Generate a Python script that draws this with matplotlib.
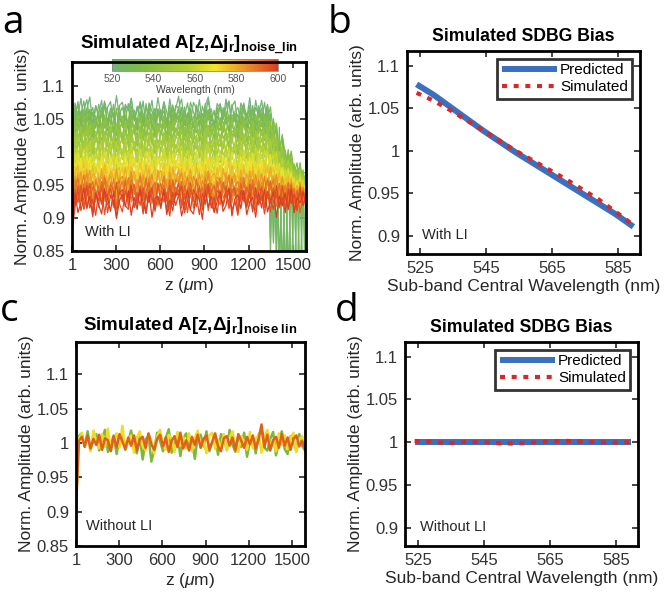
import numpy as np
import matplotlib.pyplot as plt
from matplotlib.colors import LinearSegmentedColormap, Normalize
from matplotlib.cm import ScalarMappable

plt.rcParams['font.family'] = ['Liberation Sans', 'DejaVu Sans']
plt.rcParams['mathtext.fontset'] = 'custom'
plt.rcParams['mathtext.rm'] = 'Liberation Sans'
plt.rcParams['mathtext.it'] = 'Liberation Sans:italic'
plt.rcParams['mathtext.bf'] = 'Liberation Sans:bold'

# ---- panel a: traces per wavelength (with LI) ----
wl_a = [520, 522.5, 525, 527.5, 530, 532.5, 535, 537.5, 540, 542.5, 545,
        547.5, 550, 552.5, 555, 557.5, 560, 562.5, 565, 567.5, 570,
        572.5, 575, 577.5, 580, 582.5, 585, 587.5, 590, 592.5, 595, 597.5, 600]
level_a = [1.060, 1.057, 1.053, 1.049, 1.045, 1.041, 1.036, 1.031, 1.026, 1.021, 1.016,
           1.011, 1.006, 1.001, 0.996, 0.991, 0.986, 0.981, 0.977, 0.973, 0.969,
           0.965, 0.961, 0.957, 0.953, 0.949, 0.945, 0.941, 0.937, 0.933, 0.929, 0.925, 0.921]
# deviations (x1e-3), 80 samples along z
dev_a = [
    [-55, 14, -6, 21, -16, 4, 23, -19, 10, -3,
     18, -24, 7, 16, -11, 25, -7, -20, 12, 2,
     21, -13, 9, -10, 17, -22, 14, 1, -12, 22,
     -5, 11, -18, 20, -9, 5, 24, -14, 8, -21,
     15, 0, -12, 19, -17, 10, 23, -8, -19, 13,
     6, -11, 20, -15, 9, 17, -21, 4, 12, -10,
     22, -16, 7, -4, 18, -13, 11, -20, 15, 3,
     -9, 21, -14, 8, 16, -18, 5, 13, -7, 10],
    [-50, -8, 19, -14, 6, 22, -10, 3, -21, 15,
     -4, 20, -17, 9, 1, -23, 13, 18, -6, -12,
     24, -9, 5, 16, -19, 11, -2, 21, -15, 7,
     -11, 19, 3, -22, 14, -6, 10, 23, -17, 2,
     -13, 18, 8, -20, 12, -3, 22, -10, 6, -18,
     16, -7, 11, 20, -14, 1, -21, 17, 4, -9,
     13, -16, 21, -5, 9, -19, 15, 2, -12, 24,
     -8, 6, -17, 19, -3, 11, -14, 22, -6, 8],
    [-45, 17, -13, 2, 24, -7, 11, -19, 16, -1,
     -15, 21, 8, -11, 19, -22, 5, 14, -4, 20,
     -17, 10, -8, 23, 3, -14, 18, -20, 9, 12,
     -3, 22, -16, 6, -10, 17, 13, -18, 1, 21,
     -9, -15, 15, 7, -23, 20, -5, 12, -13, 4,
     19, -11, -2, 23, -18, 8, 14, -7, 21, -16,
     3, 10, -20, 17, -6, 22, -12, 5, 18, -21,
     11, -4, 15, -10, 20, -15, 7, -1, 16, -8],
    [-60, 9, 22, -12, 15, -20, 4, 18, -7, 11,
     -16, 23, -3, 7, -21, 14, 19, -10, 2, -14,
     20, 6, -18, 12, -5, 24, -11, 8, 17, -19,
     1, 13, -8, 21, -15, 10, -2, 18, -23, 5,
     16, -12, 22, -6, 9, -17, 14, 3, -20, 19,
     -9, 12, 4, -16, 23, -4, 8, -13, 17, 0,
     -19, 21, -7, 14, -11, 6, 20, -15, 10, -2,
     18, -12, 3, 22, -9, 15, -18, 7, 12, -5],
    [-40, -12, 16, 5, -19, 21, -6, 13, 9, -17,
     22, -2, -13, 18, 7, -21, 11, -8, 24, -15,
     4, 17, -10, 14, -23, 8, 20, -4, -16, 12,
     19, -9, 6, -20, 23, -1, 10, -14, 16, -7,
     21, -18, 3, 13, -11, 18, -22, 9, 15, -5,
     -13, 22, 2, -17, 11, 7, -19, 20, -8, 14,
     -3, 17, -21, 9, 12, -14, 4, 23, -10, 6,
     -16, 19, 1, -12, 21, -6, 14, -20, 8, 11],
]
# band collapse beyond z~1350 um (last 13 samples) and green drop-outs
tail_squeeze = [1.0, 0.93, 0.85, 0.76, 0.67, 0.59, 0.52, 0.46, 0.41, 0.37, 0.33, 0.30, 0.27]
tail_center = 0.925
tail_dip_1 = [0, -200, 0, -210, -10, -205, 0, -210, -5, -200, 0, -210, -10]
tail_dip_2 = [-190, 0, -200, 0, -205, 0, -200, -10, -210, 0, -200, -5, -210]

# ---- panel c: traces (without LI) ----
c_green = [-30, 10, 14, -6, 17, -9, 4, 13, -11, 7,
           19, -13, -3, 11, -16, 6, 12, -10, 2, 18,
           -7, -15, 9, -24, 5, 11, -27, -9, 15, 3,
           -12, 8, 20, -14, -1, 12, -19, 7, 14, -8,
           3, -23, 10, 12, -5, 17, -12, 1, 9, -17,
           13, 6, -10, 19, -3, -13, 11, -6, 15, -20,
           4, 9, -15, 12, 20, -7, -11, 6, 16, -18,
           2, 17, -9, -16, 10, 5, -12, 13, -4, -11]
c_yellow = [-90, 6, 15, -4, 9, -12, 18, 2, -8, 13,
            -6, 21, -10, 5, 14, -7, 25, -9, 3, 11,
            -14, 8, 17, -5, -11, 13, 4, -16, 10, 19,
            -3, -10, 12, 6, -13, 16, -4, 9, -8, 14,
            -12, 7, 18, -6, 3, -15, 11, 15, -9, 5,
            -7, 13, -11, 8, 17, -5, -13, 10, 2, -10,
            16, -8, 6, 12, -14, 9, 19, -6, 4, -12,
            14, -3, 11, -9, 7, 15, -13, 5, 10, -7]
c_orange = [-95, 3, 9, -5, 11, -8, 6, -3, 12, -10,
            7, 4, -12, 10, -6, 13, 2, -9, 8, -4,
            11, -11, 5, 9, -7, 14, -2, -10, 6, 12,
            -5, 8, -13, 3, 10, -6, 15, -8, 4, -11,
            9, -3, 12, -7, 6, 11, -9, 2, 14, -5,
            -12, 7, 10, -4, 8, -10, 13, 3, -7, 9,
            -2, 11, -8, 5, 27, -6, 12, -11, 4, 9,
            -7, 13, -4, 8, -10, 6, 11, -5, 3, -8]
c_colors = ['#7ab840', '#f0dc20', '#e0601c']

# ---- panels b, d: SDBG bias ----
wl_bias = [524, 529, 534, 539, 544, 549, 554, 559, 564, 569, 574, 579, 584, 589.5]
pred_b = [1.078, 1.066, 1.052, 1.038, 1.024, 1.011, 0.998, 0.986, 0.974, 0.962, 0.950, 0.938, 0.926, 0.911]
sim_b = [1.068, 1.059, 1.048, 1.036, 1.024, 1.012, 1.000, 0.989, 0.978, 0.967, 0.955, 0.943, 0.929, 0.913]
pred_d = [1.0] * 14
sim_d = [1.0016, 1.0008, 0.9988, 1.0004, 1.0004, 0.9990, 0.9985, 0.9995, 1.0008, 1.0018, 1.0010, 1.0002, 0.9996, 1.0002]

z_ticks = [1, 300, 600, 900, 1200, 1500]
yt_ac = [0.85, 0.9, 0.95, 1, 1.05, 1.1]
yt_ac_lab = ['0.85', '0.9', '0.95', '1', '1.05', '1.1']
yt_bd = [0.9, 0.95, 1, 1.05, 1.1]
yt_bd_lab = ['0.9', '0.95', '1', '1.05', '1.1']
wl_ticks = [525, 545, 565, 585]

cmap = LinearSegmentedColormap.from_list('wl', [(0.0, '#72b47a'), (0.15, '#7cbb48'), (0.45, '#b0cf35'),
                                                (0.62, '#f2e52a'), (0.8, '#eb9428'), (1.0, '#dc3c22')])
norm = Normalize(520, 600)

fig = plt.figure(figsize=(6.68, 5.97), dpi=100)
ax_a = fig.add_axes([0.1078, 0.5796, 0.3503, 0.3166])
ax_b = fig.add_axes([0.6093, 0.5745, 0.3488, 0.3400])
ax_c = fig.add_axes([0.1138, 0.0854, 0.3428, 0.3417])
ax_d = fig.add_axes([0.6063, 0.0854, 0.3488, 0.3417])


def style(ax):
    for s in ax.spines.values():
        s.set_linewidth(2)
        s.set_zorder(6)
    ax.tick_params(direction='in', top=True, right=True, length=4, width=1.2,
                   labelsize=12, colors='#262626', labelcolor='#333333', pad=5)


# panel a
n = len(dev_a[0])
z = np.linspace(1, 1590, n)
squeeze = np.ones(n)
squeeze[n - len(tail_squeeze):] = tail_squeeze
for k, (w, lev) in enumerate(zip(wl_a, level_a)):
    y = tail_center + (lev - tail_center) * squeeze + np.array(dev_a[k % len(dev_a)]) / 1000
    if k < 4:
        dip = tail_dip_1 if k % 2 == 0 else tail_dip_2
        y[n - len(dip):] += np.array(dip) / 1000
    ax_a.plot(z, y, color=cmap(norm(w)), lw=0.9)
ax_a.set_xlim(1, 1590)
ax_a.set_ylim(0.85, 1.136)
ax_a.set_xticks(z_ticks)
ax_a.set_yticks(yt_ac, yt_ac_lab)
ax_a.set_xlabel('z ($\\mu$m)', fontsize=12.5, color='#262626', labelpad=2)
ax_a.set_ylabel('Norm. Amplitude (arb. units)', fontsize=12.5, color='#262626', labelpad=2)
ax_a.set_title('Simulated A[z,Δj$_\\mathbf{r}$]$_\\mathbf{noise\\_lin}$', fontsize=13.5, fontweight='bold', pad=9)
ax_a.text(0.055, 0.1, 'With LI', transform=ax_a.transAxes, fontsize=10.5, color='#262626', va='center')
style(ax_a)
cax = ax_a.inset_axes([0.171, 0.952, 0.709, 0.063])
cb = fig.colorbar(ScalarMappable(norm=norm, cmap=cmap), cax=cax, orientation='horizontal')
cb.set_ticks([520, 540, 560, 580, 600])
cax.tick_params(labelsize=7.5, length=0, labelcolor='#555555', pad=2)
cb.set_label('Wavelength (nm)', fontsize=7.5, color='#444444', labelpad=1)
cb.outline.set_edgecolor('#888888')
cb.outline.set_linewidth(0.6)

# panel c
for vals, col in zip([c_green, c_yellow, c_orange], c_colors):
    ax_c.plot(z, 1 + np.array(vals) / 1000, color=col, lw=1.8)
ax_c.set_xlim(1, 1590)
ax_c.set_ylim(0.85, 1.147)
ax_c.set_xticks(z_ticks)
ax_c.set_yticks(yt_ac, yt_ac_lab)
ax_c.set_xlabel('z ($\\mu$m)', fontsize=12.5, color='#262626', labelpad=2)
ax_c.set_ylabel('Norm. Amplitude (arb. units)', fontsize=12.5, color='#262626', labelpad=2)
ax_c.set_title('Simulated A[z,Δj$_\\mathbf{r}$]$_\\mathbf{noise\\ lin}$', fontsize=13.5, fontweight='bold', pad=9)
ax_c.text(0.045, 0.1, 'Without LI', transform=ax_c.transAxes, fontsize=10.5, color='#262626', va='center')
style(ax_c)

# panels b, d
for ax, pred, sim, note in [(ax_b, pred_b, sim_b, 'With LI'), (ax_d, pred_d, sim_d, 'Without LI')]:
    ax.plot(wl_bias, pred, color='#3b6fc0', lw=4.3, solid_capstyle='butt', label='Predicted')
    ax.plot(wl_bias, sim, color='#d42a2a', lw=3, linestyle=(0, (1.2, 1.6)), dash_capstyle='butt',
            label='Simulated')
    ax.set_xlim(521.1, 591.5)
    ax.set_ylim(0.879, 1.117)
    ax.set_xticks(wl_ticks)
    ax.set_yticks(yt_bd, yt_bd_lab)
    ax.set_xlabel('Sub-band Central Wavelength (nm)', fontsize=12.5, color='#262626', labelpad=2)
    ax.set_ylabel('Norm. Amplitude (arb. units)', fontsize=12.5, color='#262626', labelpad=2)
    ax.set_title('Simulated SDBG Bias', fontsize=12.7, fontweight='bold', pad=7)
    ax.text(0.065, 0.095, note, transform=ax.transAxes, fontsize=10.5, color='#262626', va='center')
    leg = ax.legend(loc='upper right', fontsize=11, handlelength=3.6, handletextpad=0.2,
                    borderaxespad=0.5, borderpad=0.3, labelspacing=0.2, fancybox=False)
    leg.get_frame().set_edgecolor('black')
    leg.get_frame().set_linewidth(2)
    style(ax)

# panel letters
for x, y, s in [(0.003, 0.945, 'a'), (0.49, 0.945, 'b'), (0.0, 0.463, 'c'), (0.502, 0.463, 'd')]:
    fig.text(x, y, s, fontsize=28, family='Open Sans', va='baseline')

fig.savefig('out.png', dpi=100)
